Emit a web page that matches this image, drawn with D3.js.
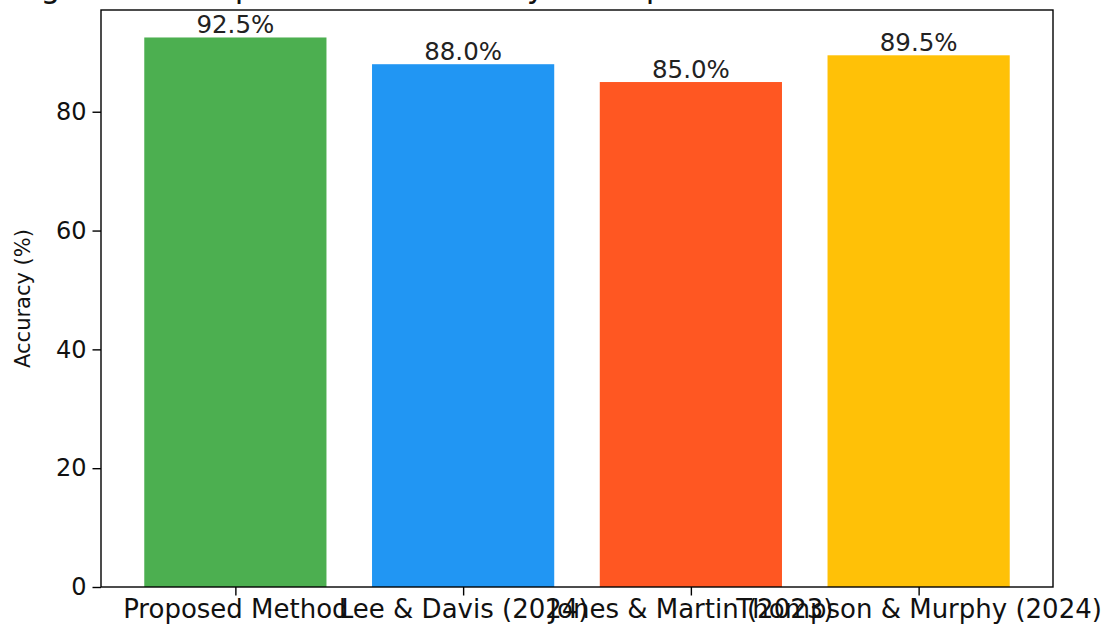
<!DOCTYPE html>
<html>
<head>
<meta charset="utf-8">
<script src="https://cdn.jsdelivr.net/npm/d3@7"></script>
<style>
  body { margin: 0; background: #fff; }
  svg { display: block; font-family: "DejaVu Sans", sans-serif; }
</style>
</head>
<body>
<div id="chart"></div>
<script>
const methods = ["Proposed Method", "Lee & Davis (2024)", "Jones & Martin (2023)", "Thompson & Murphy (2024)"];
const accuracy = [92.5, 88.0, 85.0, 89.5];
const barColors = ["#4CAF50", "#2196F3", "#FF5722", "#FFC107"];
const yTicks = [0, 20, 40, 60, 80];
const titleText = "Figure 2: Comparison of Accuracy of Proposed Method and Related Works";

const width = 1111;
const height = 626;
const margin = {top: 10, right: 58, bottom: 39, left: 101};

const svg = d3.select("#chart")
  .append("svg")
    .attr("width", width)
    .attr("height", height);

// matplotlib-like limits: bars of width 0.8 with 5% margins
const x = d3.scaleLinear()
  .domain([-0.59, methods.length - 1 + 0.59])
  .range([margin.left, width - margin.right]);

const y = d3.scaleLinear()
  .domain([0, d3.max(accuracy) * 1.05])
  .range([height - margin.bottom, margin.top]);

const barW = x(0.8) - x(0);

svg.append("g")
  .selectAll("rect")
  .data(accuracy)
  .join("rect")
    .attr("x", (d, i) => x(i) - barW / 2)
    .attr("y", d => y(d))
    .attr("width", barW)
    .attr("height", d => y(0) - y(d))
    .attr("fill", (d, i) => barColors[i]);

svg.append("g")
  .selectAll("text")
  .data(accuracy)
  .join("text")
    .attr("x", (d, i) => x(i))
    .attr("y", d => y(d) - 4)
    .attr("text-anchor", "middle")
    .attr("fill", "#222")
    .style("font-size", "24.5px")
    .text(d => d.toFixed(1) + "%");

// axes
const yAxis = d3.axisLeft(y).tickValues(yTicks).tickSize(8.5).tickPadding(6);
const gy = svg.append("g")
  .attr("transform", `translate(${margin.left}, 0)`)
  .call(yAxis);

const xAxis = d3.axisBottom(x)
  .tickValues(d3.range(methods.length))
  .tickFormat(i => methods[i])
  .tickSize(8.5)
  .tickPadding(4);
const gx = svg.append("g")
  .attr("transform", `translate(0, ${height - margin.bottom})`)
  .call(xAxis);

[gx, gy].forEach(g => {
  g.select(".domain").remove();
  g.selectAll(".tick line").attr("stroke", "#000").attr("stroke-width", 1.4);
  g.selectAll(".tick text").attr("fill", "#111").style("font-size", "24px").style("font-family", "DejaVu Sans");
});
gx.selectAll(".tick text").style("font-size", "26px");

// frame
svg.append("rect")
  .attr("x", margin.left)
  .attr("y", margin.top)
  .attr("width", width - margin.left - margin.right)
  .attr("height", height - margin.top - margin.bottom)
  .attr("fill", "none")
  .attr("stroke", "#000")
  .attr("stroke-width", 1.4);

svg.append("text")
  .attr("transform", `translate(30, ${(margin.top + height - margin.bottom) / 2}) rotate(-90)`)
  .attr("text-anchor", "middle")
  .attr("fill", "#111")
  .style("font-size", "21px")
  .text("Accuracy (%)");

// title sits mostly above the visible area, as in the reference
svg.append("text")
  .attr("x", 595)
  .attr("y", -3)
  .attr("text-anchor", "middle")
  .attr("fill", "#111")
  .style("font-size", "31.5px")
  .text(titleText);
</script>
</body>
</html>
